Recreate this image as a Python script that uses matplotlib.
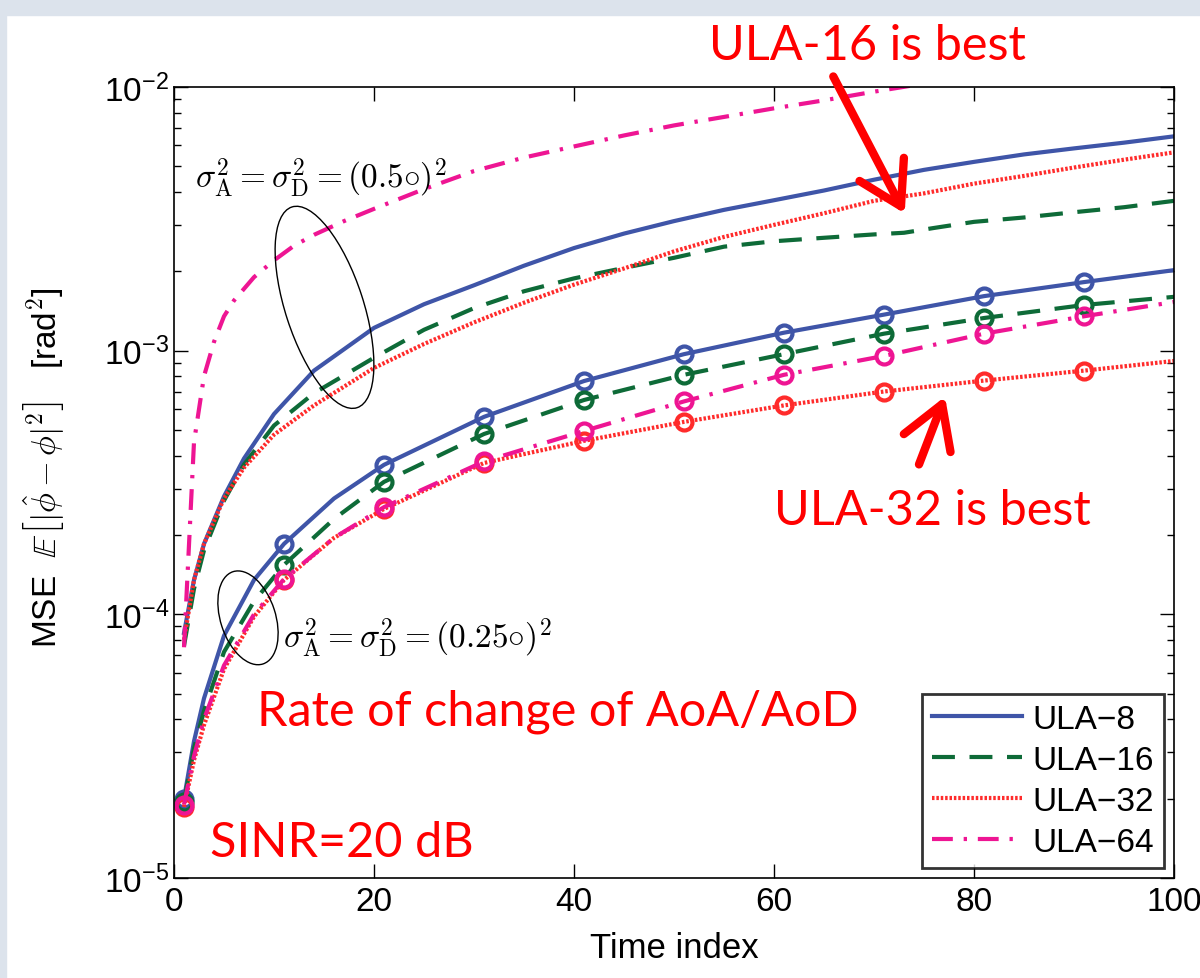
import matplotlib
matplotlib.use("Agg")
import matplotlib.pyplot as plt
import matplotlib.patches as mpatches
import matplotlib.transforms as mtransforms
import numpy as np

plt.rcParams['font.family'] = 'Liberation Sans'
plt.rcParams['mathtext.fontset'] = 'custom'
plt.rcParams['mathtext.rm'] = 'Liberation Sans'
plt.rcParams['mathtext.it'] = 'Liberation Sans:italic'

# sigma^2 = (0.5 deg)^2 group, no markers
x_up8 = [1, 2, 3, 5, 7, 10, 14, 20, 25, 30, 35, 40, 45, 50, 55, 60, 65, 70, 75, 80, 85, 90, 95, 100]
y_up8 = [8.5e-5, 1.35e-4, 1.85e-4, 2.8e-4, 3.9e-4, 5.75e-4, 8.4e-4, 1.22e-3, 1.5e-3, 1.77e-3, 2.1e-3,
         2.45e-3, 2.78e-3, 3.1e-3, 3.42e-3, 3.72e-3, 4.05e-3, 4.45e-3, 4.85e-3, 5.2e-3, 5.55e-3,
         5.85e-3, 6.15e-3, 6.5e-3]
x_up16 = [1, 2, 3, 5, 7, 10, 14, 20, 25, 30, 35, 40, 45, 50, 55, 60, 65, 70, 73, 76, 80, 85, 90, 95, 100]
y_up16 = [7.6e-5, 1.25e-4, 1.75e-4, 2.7e-4, 3.7e-4, 5.2e-4, 6.9e-4, 9.4e-4, 1.2e-3, 1.45e-3, 1.68e-3,
          1.88e-3, 2.06e-3, 2.25e-3, 2.48e-3, 2.6e-3, 2.68e-3, 2.76e-3, 2.8e-3, 2.92e-3, 3.08e-3,
          3.2e-3, 3.35e-3, 3.5e-3, 3.7e-3]
x_up32 = [1, 2, 3, 5, 7, 10, 14, 20, 25, 30, 35, 40, 45, 50, 55, 60, 65, 70, 75, 80, 85, 90, 95, 100]
y_up32 = [8e-5, 1.35e-4, 1.85e-4, 2.75e-4, 3.6e-4, 4.8e-4, 6.2e-4, 8.6e-4, 1.06e-3, 1.28e-3, 1.52e-3,
          1.78e-3, 2.05e-3, 2.38e-3, 2.7e-3, 3.0e-3, 3.32e-3, 3.7e-3, 3.95e-3, 4.3e-3, 4.6e-3,
          4.95e-3, 5.3e-3, 5.65e-3]
x_up64 = [1, 2, 3, 4, 5, 6, 8, 10, 12, 14, 17, 20, 25, 30, 35, 40, 45, 50, 55, 60, 65, 70, 75, 80, 90, 100]
y_up64 = [7.5e-5, 4.5e-4, 8e-4, 1.08e-3, 1.35e-3, 1.55e-3, 1.9e-3, 2.2e-3, 2.5e-3, 2.75e-3, 3.1e-3,
          3.45e-3, 4.1e-3, 4.8e-3, 5.4e-3, 5.95e-3, 6.55e-3, 7.15e-3, 7.7e-3, 8.3e-3, 8.9e-3,
          9.6e-3, 1.03e-2, 1.1e-2, 1.2e-2, 1.32e-2]

# sigma^2 = (0.25 deg)^2 group, with circle markers
x_low = [1, 2, 3, 5, 8, 11, 16, 21, 31, 41, 51, 61, 71, 81, 91, 100]
y_low8 = [2.0e-5, 3.3e-5, 4.8e-5, 8.3e-5, 1.35e-4, 1.85e-4, 2.75e-4, 3.69e-4, 5.61e-4, 7.67e-4,
          9.7e-4, 1.17e-3, 1.37e-3, 1.61e-3, 1.82e-3, 2.02e-3]
y_low16 = [1.95e-5, 3.1e-5, 4.3e-5, 7.2e-5, 1.12e-4, 1.54e-4, 2.3e-4, 3.18e-4, 4.83e-4, 6.5e-4,
           8.1e-4, 9.7e-4, 1.16e-3, 1.33e-3, 1.49e-3, 1.6e-3]
y_low32 = [1.86e-5, 2.8e-5, 3.8e-5, 6.2e-5, 9.8e-5, 1.35e-4, 1.95e-4, 2.51e-4, 3.75e-4, 4.55e-4,
           5.37e-4, 6.2e-4, 7.0e-4, 7.7e-4, 8.4e-4, 9.14e-4]
y_low64 = [1.9e-5, 2.9e-5, 4.0e-5, 6.4e-5, 1.0e-4, 1.36e-4, 1.95e-4, 2.55e-4, 3.8e-4, 4.96e-4,
           6.42e-4, 8.1e-4, 9.55e-4, 1.16e-3, 1.35e-3, 1.53e-3]
marker_x = [1, 11, 21, 31, 41, 51, 61, 71, 81, 91]

labels = ['ULA\u22128', 'ULA\u221216', 'ULA\u221232', 'ULA\u221264']
colors = ['#3f55a8', '#0e6b38', '#ff2b2b', '#ee1593']
styles = ['-', (0, (5.5, 3.5)), (0, (0.6, 0.45)), (0, (5, 2.6, 0.8, 2.6))]

fig = plt.figure(figsize=(12, 9.79), dpi=100)
fig.patch.set_facecolor('white')
# slide-like border strips
fig.patches.append(mpatches.Rectangle((0, 0), 6 / 1200, 1, transform=fig.transFigure,
                                      color='#dce3ec', zorder=0))
fig.patches.append(mpatches.Rectangle((0, 1 - 16 / 979), 1, 16 / 979, transform=fig.transFigure,
                                      color='#dce3ec', zorder=0))

ax = fig.add_axes([174 / 1200, 1 - 879 / 979, 1000 / 1200, 791 / 979])
ax.set_yscale('log')
ax.set_xlim(0, 100)
ax.set_ylim(1e-5, 1e-2)

up_x = [x_up8, x_up16, x_up32, x_up64]
up_y = [y_up8, y_up16, y_up32, y_up64]
low_y = [y_low8, y_low16, y_low32, y_low64]
for i in range(4):
    ax.plot(up_x[i], up_y[i], color=colors[i], linestyle=styles[i], lw=3, label=labels[i],
            dash_capstyle='butt')
for i in range(4):
    ax.plot(x_low, low_y[i], color=colors[i], linestyle=styles[i], lw=3, dash_capstyle='butt')
    xs = np.array(x_low)
    ys = np.array(low_y[i])
    sel = np.isin(xs, marker_x)
    ax.plot(xs[sel], ys[sel], 'o', color=colors[i], mfc='none', ms=11.5, mew=3, clip_on=False)

ax.set_xticks([0, 20, 40, 60, 80, 100])
ax.tick_params(which='both', direction='in', top=True, right=True, labelsize=24)
ax.tick_params(which='major', length=10, width=1)
ax.tick_params(which='minor', length=5, width=1)
ax.tick_params(axis='x', pad=6)
for s in ax.spines.values():
    s.set_linewidth(1.2)

ax.set_xlabel('Time index', fontsize=25, labelpad=10)
ax.set_ylabel(r'MSE  $\mathbb{E}\left[|\hat{\phi}-\phi|^2\right]$   [rad$^2$]', fontsize=24,
              math_fontfamily='cm')
ax.yaxis.set_label_coords(-0.107, 0.52)

leg = ax.legend(loc='lower right', fontsize=24, frameon=True, fancybox=False, edgecolor='black',
                handlelength=2.7, handletextpad=0.3, borderpad=0.3, labelspacing=0.3,
                borderaxespad=0.3)
leg.get_frame().set_linewidth(2)

# ellipses grouping the curves
fig.canvas.draw()
def add_ellipse(xc, yc, w, h, ang):
    cx, cy = ax.transData.transform((xc, yc))
    e = mpatches.Ellipse((cx, cy), w, h, angle=ang, transform=mtransforms.IdentityTransform(),
                         fill=False, ec='black', lw=1)
    fig.patches.append(e)

add_ellipse(15.05, 1.46e-3, 78, 211, 18)
add_ellipse(7.4, 9.7e-5, 55, 97, 18)

ax.text(2.1, 4.56e-3, r'$\sigma_\mathrm{A}^2 = \sigma_\mathrm{D}^2 = (0.5{\circ})^2$', fontsize=24,
        math_fontfamily='cm', va='center', ha='left')
ax.text(10.9, 8.2e-5, r'$\sigma_\mathrm{A}^2 = \sigma_\mathrm{D}^2 = (0.25{\circ})^2$', fontsize=24,
        math_fontfamily='cm', va='center', ha='left')

red = '#ff0000'
fig.text(0.7225, 1 - 60 / 979, 'ULA-16 is best', color=red, fontsize=35, family='Lato',
         ha='center', va='baseline')
fig.text(0.7767, 1 - 525 / 979, 'ULA-32 is best', color=red, fontsize=35, family='Lato',
         ha='center', va='baseline')
fig.text(0.465, 1 - 726 / 979, 'Rate of change of AoA/AoD', color=red, fontsize=35, family='Lato',
         ha='center', va='baseline')
fig.text(0.285, 1 - 857 / 979, 'SINR=20 dB', color=red, fontsize=35, family='Lato',
         ha='center', va='baseline')

arrow = dict(arrowstyle='->,head_length=1.5,head_width=0.9', color=red, lw=6, mutation_scale=20)
fig.add_artist(mpatches.FancyArrowPatch((832 / 1200, 1 - 75 / 979), (906 / 1200, 1 - 217 / 979),
                                        transform=fig.transFigure, **arrow))
fig.add_artist(mpatches.FancyArrowPatch((918 / 1200, 1 - 468 / 979), (946 / 1200, 1 - 395 / 979),
                                        transform=fig.transFigure, **arrow))

fig.savefig('out.png', dpi=100)
